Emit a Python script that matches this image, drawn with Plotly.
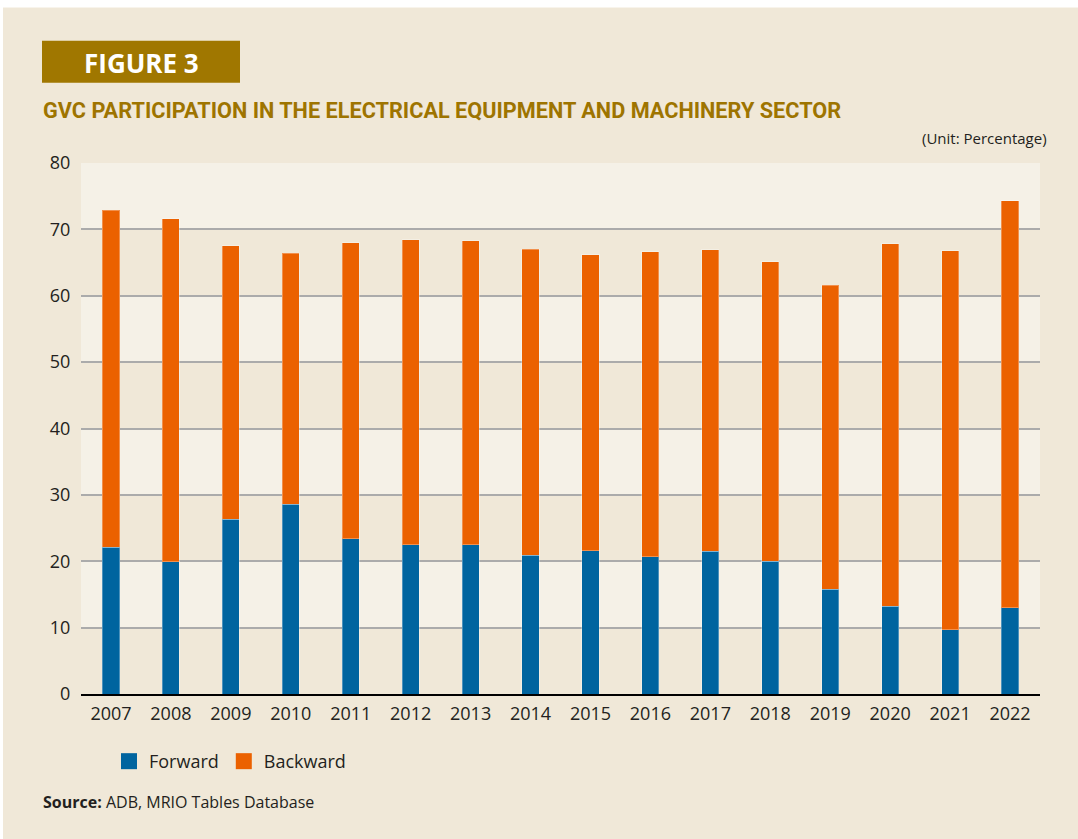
import plotly.graph_objects as go

# GVC participation, electrical equipment and machinery sector (%)
years = ["2007", "2008", "2009", "2010", "2011", "2012", "2013", "2014",
         "2015", "2016", "2017", "2018", "2019", "2020", "2021", "2022"]
forward = [22.1, 19.9, 26.3, 28.6, 23.4, 22.5, 22.5, 20.9,
           21.6, 20.7, 21.5, 20.0, 15.8, 13.2, 9.7, 13.0]
backward = [50.8, 51.7, 41.2, 37.8, 44.6, 45.9, 45.8, 46.1,
            44.6, 45.9, 45.4, 45.1, 45.8, 54.6, 57.1, 61.3]
y_ticks = [0, 10, 20, 30, 40, 50, 60, 70, 80]

BLUE = "#00649f"
ORANGE = "#eb6100"
GOLD = "#9e7400"
PAGE = "#f0e8d8"
BAND = "#f5f1e7"
TEXT = "#231f20"
FONT = "Open Sans, Noto Sans, sans-serif"

W, H = 1078, 839
L, R, T, B = 81, 1040, 163.2, 693.6


def px(x):
    return (x - L) / (R - L)


def py(y):
    return (B - y) / (B - T)


fig = go.Figure()
fig.add_trace(go.Bar(x=years, y=forward, name="Forward", marker_color=BLUE,
                     marker_line=dict(color="rgba(255,255,255,0.3)", width=1),
                     showlegend=False, legendgroup="f"))
fig.add_trace(go.Bar(x=years, y=backward, name="Backward", marker_color=ORANGE,
                     marker_line=dict(color="rgba(255,255,255,0.3)", width=1),
                     showlegend=False, legendgroup="b"))
# legend swatches
fig.add_trace(go.Scatter(x=[None], y=[None], mode="markers", name="Forward",
                         marker=dict(symbol="square", size=16, color=BLUE), legendgroup="f"))
fig.add_trace(go.Scatter(x=[None], y=[None], mode="markers", name="Backward",
                         marker=dict(symbol="square", size=16, color=ORANGE), legendgroup="b"))

shapes = []
# alternating light bands behind the grid
for lo in range(10, 80, 20):
    shapes.append(dict(type="rect", xref="paper", yref="y", x0=0, x1=1, y0=lo, y1=lo + 10,
                       fillcolor=BAND, line=dict(width=0), layer="below"))
# title tab
shapes.append(dict(type="rect", xref="paper", yref="paper",
                   x0=px(42), x1=px(240), y0=py(83), y1=py(41),
                   fillcolor="#a07700", line=dict(width=0), layer="above"))
# white page margins
shapes.append(dict(type="rect", xref="paper", yref="paper", x0=px(0), x1=px(3), y0=py(H), y1=py(0),
                   fillcolor="white", line=dict(width=0), layer="above"))
shapes.append(dict(type="rect", xref="paper", yref="paper", x0=px(0), x1=px(W), y0=py(8), y1=py(0),
                   fillcolor="white", line=dict(width=0), layer="above"))

annotations = [
    dict(text="<b>FIGURE 3</b>", x=px(141), y=py(63), xref="paper", yref="paper",
         xanchor="center", yanchor="middle", showarrow=False,
         font=dict(family=FONT, size=26, color="white")),
    dict(text="<b>GVC PARTICIPATION IN THE ELECTRICAL EQUIPMENT AND MACHINERY SECTOR</b>",
         x=px(41), y=py(111), xref="paper", yref="paper", xanchor="left", yanchor="middle",
         showarrow=False,
         font=dict(family="Roboto, sans-serif", size=21.7, color=GOLD)),
    dict(text="(Unit: Percentage)", x=px(1049), y=py(138), xref="paper", yref="paper",
         xanchor="right", yanchor="middle", showarrow=False,
         font=dict(family=FONT, size=15, color=TEXT)),
    dict(text="<b>Source:</b> ADB, MRIO Tables Database", x=px(41), y=py(801),
         xref="paper", yref="paper", xanchor="left", yanchor="middle", showarrow=False,
         font=dict(family=FONT, size=16, color=TEXT)),
]

fig.update_layout(
    width=W, height=H,
    margin=dict(l=L, r=W - R, t=T, b=H - B, pad=0),
    paper_bgcolor=PAGE, plot_bgcolor=PAGE,
    barmode="stack", bargap=0.715,
    font=dict(family=FONT, size=17, color=TEXT),
    shapes=shapes, annotations=annotations,
    legend=dict(orientation="h", x=px(109), y=py(761), xanchor="left", yanchor="middle",
                bgcolor="rgba(0,0,0,0)", font=dict(family=FONT, size=18, color=TEXT),
                itemsizing="trace", tracegroupgap=0),
    xaxis=dict(type="category", showgrid=False, showline=True, linecolor="black",
               linewidth=2, ticks="outside", ticklen=2, tickcolor="rgba(0,0,0,0)",
               tickfont=dict(size=18, color=TEXT)),
    yaxis=dict(range=[0, 80], tickvals=y_ticks, showgrid=True, gridcolor="#ababab",
               gridwidth=1.5, zeroline=False, showline=False, ticks="outside",
               ticklen=6, tickcolor="rgba(0,0,0,0)", tickfont=dict(size=18, color=TEXT)),
)

fig.write_html("out.html")
